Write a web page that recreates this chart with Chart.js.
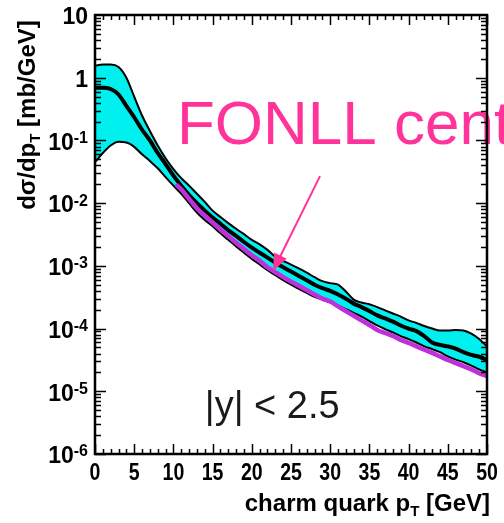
<!DOCTYPE html>
<html>
<head>
<meta charset="utf-8">
<script src="https://cdn.jsdelivr.net/npm/chart.js@4/dist/chart.umd.min.js"></script>
<style>
  body { margin: 0; background: #fff; }
  #wrap { width: 504px; height: 523px; position: relative; }
</style>
</head>
<body>
<div id="wrap"><canvas id="ptChart"></canvas></div>
<script>
// charm quark pT grid [GeV]
const pT = [0,1,2,3,4,5,6,7,8,9,10,11,12,13,14,15,16,17,18,19,20,21,22,23,24,25,
            26,27,28,29,30,31,32,33,34,35,36,37,38,39,40,41,42,43,44,45,46,47,48,49,50];

// d(sigma)/dpT [mb/GeV]: band upper edge, central curve, band lower edge
const bandUpper = [1.55,1.62,1.62,1.48,1.0,0.50,0.25,0.141,0.083,0.052,0.035,0.025,0.019,0.0141,0.0105,
  0.0076,0.0060,0.0048,0.0039,0.0032,0.0026,0.0022,0.0018,0.0014,0.0012,0.00105,0.00091,0.00078,0.00066,
  0.00057,0.00053,0.0005,0.00039,0.00029,0.00026,0.000245,0.00022,0.000195,0.000174,0.000155,0.000135,
  0.000123,0.00011,0.0001,0.000093,0.000093,0.000095,0.000093,0.000083,0.000068,0.000052];
const central = [0.69,0.69,0.66,0.54,0.355,0.234,0.148,0.10,0.063,0.042,0.0275,0.019,0.0135,0.010,0.0076,
  0.0059,0.0047,0.0037,0.0030,0.0024,0.00195,0.00162,0.00135,0.00112,0.00095,0.00081,0.00069,0.00059,0.0005,
  0.00044,0.0004,0.00035,0.0003,0.00025,0.00022,0.00019,0.000162,0.000145,0.000129,0.000112,0.0001,
  0.000091,0.000076,0.00006,0.000055,0.000052,0.000048,0.000042,0.000038,0.0000355,0.0000316];
const bandLower = [0.045,0.063,0.083,0.095,0.093,0.079,0.060,0.047,0.036,0.026,0.019,0.0141,0.010,0.0071,0.0054,
  0.0043,0.0033,0.0026,0.00204,0.00162,0.00129,0.00105,0.00085,0.00071,0.00059,0.0005,0.00043,0.00037,0.00032,
  0.00029,0.00026,0.000234,0.000204,0.000178,0.000155,0.000132,0.000112,0.000098,0.000087,0.000076,0.000068,
  0.00006,0.000052,0.000047,0.000042,0.000036,0.000032,0.000029,0.0000257,0.0000224,0.00002];

// FONLL central prediction
const fonllPt = [10.5,11,12,13,14,15,16,17,18,19,20,21,22,23,24,25,26,27,28,29,30,
                 31,32,33,34,35,36,37,38,39,40,41,42,43,44,45,46,47,48,49,50];
const fonllCentral = [0.019,0.0166,0.0117,0.0083,0.0063,0.0049,0.0038,0.0030,0.00234,0.00186,0.00148,
  0.0012,0.00095,0.00079,0.00066,0.00056,0.00048,0.00041,0.00035,0.0003,0.00027,0.000226,0.00019,0.00016,
  0.000135,0.000114,0.000095,0.000085,0.000076,0.000066,0.000059,0.000052,0.000046,0.000041,0.000036,
  0.0000316,0.0000282,0.0000251,0.0000224,0.0000195,0.0000174];

const xTicks = [0,5,10,15,20,25,30,35,40,45,50];
const yTicks = [10,1,1e-1,1e-2,1e-3,1e-4,1e-5,1e-6];
const yTickLabels = [['10',''],['1',''],['10','-1'],['10','-2'],['10','-3'],['10','-4'],['10','-5'],['10','-6']];

const pts = (xs, ys) => xs.map((x, i) => ({ x: x, y: ys[i] }));

const FONT = '"Liberation Sans", Arial, sans-serif';
const PINK = '#ff3399';

// frame, inward ticks, labels and annotations
const framePlugin = {
  id: 'frame',
  beforeDatasetsDraw(chart) {
    const { ctx, scales: { x, y } } = chart;
    ctx.save();
    // FONLL label
    ctx.fillStyle = PINK;
    ctx.font = '62px ' + FONT;
    ctx.textBaseline = 'alphabetic';
    ctx.fillText('FONLL central', x.getPixelForValue(10.45), y.getPixelForValue(0.0865));
    // |y| < 2.5
    ctx.fillStyle = '#1a1a1a';
    ctx.font = '38px ' + FONT;
    ctx.fillText('|y| < 2.5', x.getPixelForValue(14.0), y.getPixelForValue(3.7e-6));
    ctx.restore();
  },
  afterDatasetsDraw(chart) {
    const { ctx, chartArea: a, scales: { x, y } } = chart;
    ctx.save();

    // arrow pointing at the FONLL curve
    const x0 = x.getPixelForValue(28.7), y0 = y.getPixelForValue(0.027);
    const x1 = x.getPixelForValue(22.7), y1 = y.getPixelForValue(8.3e-4);
    const ang = Math.atan2(y1 - y0, x1 - x0);
    ctx.strokeStyle = PINK;
    ctx.fillStyle = PINK;
    ctx.lineWidth = 2;
    ctx.beginPath();
    ctx.moveTo(x0, y0);
    ctx.lineTo(x1 - 12 * Math.cos(ang), y1 - 12 * Math.sin(ang));
    ctx.stroke();
    ctx.beginPath();
    ctx.moveTo(x1, y1);
    ctx.lineTo(x1 - 17 * Math.cos(ang) + 7 * Math.sin(ang), y1 - 17 * Math.sin(ang) - 7 * Math.cos(ang));
    ctx.lineTo(x1 - 17 * Math.cos(ang) - 7 * Math.sin(ang), y1 - 17 * Math.sin(ang) + 7 * Math.cos(ang));
    ctx.closePath();
    ctx.fill();

    ctx.strokeStyle = '#000';
    ctx.fillStyle = '#000';

    // ticks on x (bottom and top)
    ctx.lineWidth = 1.5;
    ctx.beginPath();
    for (let v = 0; v <= 50; v++) {
      const px = Math.round(x.getPixelForValue(v)) + 0.5;
      const len = v % 5 === 0 ? 10 : 5;
      ctx.moveTo(px, a.bottom); ctx.lineTo(px, a.bottom - len);
      ctx.moveTo(px, a.top); ctx.lineTo(px, a.top + len);
    }
    // ticks on y (left and right)
    for (let e = -6; e <= 0; e++) {
      for (let m = 1; m <= 9; m++) {
        const py = Math.round(y.getPixelForValue(m * Math.pow(10, e))) + 0.5;
        const len = m === 1 ? 11 : 6;
        ctx.moveTo(a.left, py); ctx.lineTo(a.left + len, py);
        ctx.moveTo(a.right, py); ctx.lineTo(a.right - len, py);
      }
    }
    ctx.stroke();

    // frame
    ctx.lineWidth = 2.5;
    ctx.strokeRect(a.left, a.top, a.right - a.left, a.bottom - a.top);

    // x tick labels
    ctx.font = 'bold 23px ' + FONT;
    ctx.textAlign = 'center';
    ctx.textBaseline = 'middle';
    xTicks.forEach(v => {
      const px = x.getPixelForValue(v);
      ctx.save();
      ctx.translate(px, a.bottom + 20);
      ctx.scale(0.85, 1);
      ctx.fillText(String(v), 0, 0);
      ctx.restore();
    });

    // y tick labels with exponents
    ctx.textAlign = 'right';
    yTicks.forEach((v, i) => {
      const py = y.getPixelForValue(v) + 3;
      const [base, sup] = yTickLabels[i];
      let right = a.left - 7;
      if (sup) {
        ctx.font = 'bold 16px ' + FONT;
        ctx.fillText(sup, right, py - 5);
        right -= ctx.measureText(sup).width;
      }
      ctx.font = 'bold 23px ' + FONT;
      ctx.fillText(base, right, py);
    });

    // axis titles
    const big = 'bold 24px ' + FONT, small = 'bold 15px ' + FONT;
    ctx.textAlign = 'left';
    ctx.textBaseline = 'alphabetic';

    // x title: charm quark p_T [GeV]
    ctx.font = big;
    const xa = 'charm quark p', xc = ' [GeV]';
    const wa = ctx.measureText(xa).width, wc = ctx.measureText(xc).width;
    ctx.font = small;
    const wb = ctx.measureText('T').width;
    let sx = 490 - (wa + wb + wc);
    ctx.font = big;
    ctx.fillText(xa, sx, 511);
    ctx.font = small;
    ctx.fillText('T', sx + wa, 516);
    ctx.font = big;
    ctx.fillText(xc, sx + wa + wb, 511);

    // y title: dσ/dp_T [mb/GeV]
    ctx.save();
    ctx.translate(35, 115);
    ctx.rotate(-Math.PI / 2);
    ctx.font = big;
    const ya = 'd\u03c3/dp', yc = ' [mb/GeV]';
    const va = ctx.measureText(ya).width, vc = ctx.measureText(yc).width;
    ctx.font = small;
    const vb = ctx.measureText('T').width;
    let sy = -(va + vb + vc) / 2;
    ctx.font = big;
    ctx.fillText(ya, sy, 0);
    ctx.font = small;
    ctx.fillText('T', sy + va, 5);
    ctx.font = big;
    ctx.fillText(yc, sy + va + vb, 0);
    ctx.restore();

    ctx.restore();
  }
};

const ctx = document.getElementById('ptChart').getContext('2d');
const chart = new Chart(ctx, {
  type: 'line',
  data: {
    datasets: [
      {
        label: 'upper',
        data: pts(pT, bandUpper),
        borderColor: '#000',
        borderWidth: 2,
        backgroundColor: '#00f0f0',
        fill: '+1',
        order: 3
      },
      {
        label: 'lower',
        data: pts(pT, bandLower),
        borderColor: '#000',
        borderWidth: 2,
        fill: false,
        order: 2
      },
      {
        label: 'central',
        data: pts(pT, central),
        borderColor: '#000',
        borderWidth: 4,
        fill: false,
        order: 1
      },
      {
        label: 'FONLL central',
        data: pts(fonllPt, fonllCentral),
        borderColor: '#c030d8',
        borderWidth: 4.5,
        fill: false,
        order: 0
      }
    ]
  },
  options: {
    responsive: true,
    maintainAspectRatio: false,
    animation: false,
    layout: { padding: { left: 95, right: 17, top: 15, bottom: 69 } },
    elements: {
      point: { radius: 0 },
      line: { cubicInterpolationMode: 'monotone', borderJoinStyle: 'round', borderCapStyle: 'round' }
    },
    scales: {
      x: { type: 'linear', min: 0, max: 50, display: false },
      y: { type: 'logarithmic', min: 1e-6, max: 10, display: false }
    },
    plugins: {
      legend: { display: false },
      tooltip: { enabled: false }
    }
  },
  plugins: [framePlugin]
});
</script>
</body>
</html>
